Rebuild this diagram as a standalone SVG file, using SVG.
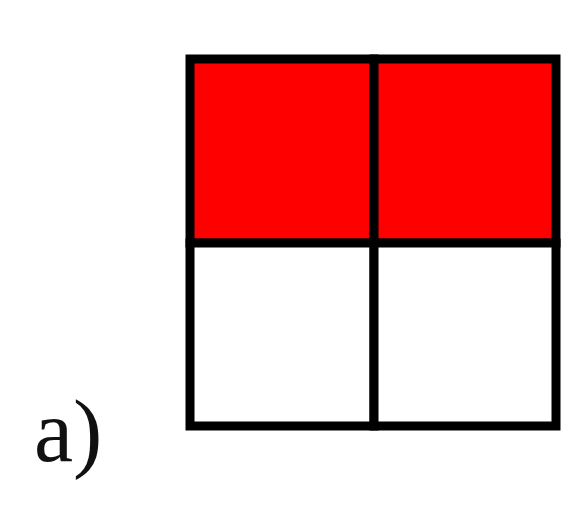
<svg xmlns="http://www.w3.org/2000/svg" width="563" height="508" viewBox="0 0 563 508">
<style>
.cell{stroke:#000;stroke-width:9}
.red{fill:#f00}
.white{fill:#fff}
.lbl{font-family:"Liberation Serif","Times New Roman",serif;font-size:88px;fill:#111}
</style>
<rect width="563" height="508" fill="#fff"/>
<g id="cell-top-left"><rect class="cell red" x="190" y="59" width="184" height="184"/></g>
<g id="cell-top-right"><rect class="cell red" x="374" y="59" width="182" height="184"/></g>
<g id="cell-bottom-left"><rect class="cell white" x="190" y="243" width="184" height="183"/></g>
<g id="cell-bottom-right"><rect class="cell white" x="374" y="243" width="182" height="183"/></g>
<g id="label"><text class="lbl" x="34" y="461">a)</text></g>
</svg>
